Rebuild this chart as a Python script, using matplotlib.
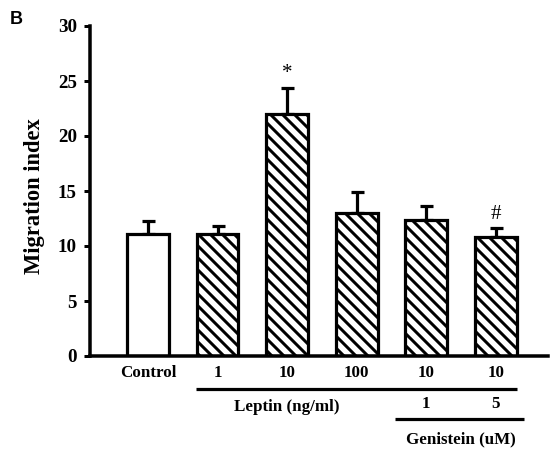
import matplotlib
matplotlib.use("Agg")
import matplotlib.pyplot as plt
import matplotlib.transforms as mtransforms

categories = ["Control", "1", "10", "100", "10", "10"]
means = [11.1, 11.1, 22.0, 13.0, 12.4, 10.8]
errors = [1.2, 0.7, 2.4, 1.9, 1.2, 0.8]
hatched = [False, True, True, True, True, True]
genistein_labels = ["1", "5"]
genistein_idx = [4, 5]
significance = {2: "*", 5: "#"}
yticks = [0, 5, 10, 15, 20, 25, 30]

DPI = 144
W, H = 552, 452
def px(p):
    return p * 72.0 / DPI

plt.rcParams['hatch.linewidth'] = px(3)
plt.rcParams['font.family'] = ['Liberation Serif', 'DejaVu Serif']

fig = plt.figure(figsize=(W / DPI, H / DPI), dpi=DPI)
ax = fig.add_axes([90 / W, 1 - 356 / H, (548 - 90) / W, (356 - 26) / H])

x = list(range(len(categories)))
for i in x:
    ax.bar(i, means[i], width=0.6, color='white', edgecolor='black',
           linewidth=px(3.2), hatch='\\\\\\\\' if hatched[i] else None, zorder=2)
ax.errorbar(x, means, yerr=[[0] * len(errors), errors], fmt='none',
            ecolor='black', elinewidth=px(3.2), capsize=px(6.5),
            capthick=px(3.2), zorder=1)

ax.set_ylim(0, 30)
ax.set_xlim(-0.833, 5.75)
ax.set_yticks(yticks)
ax.set_yticklabels([str(t) for t in yticks], fontsize=px(19), fontweight='bold')
ax.set_xticks(x)
ax.set_xticklabels(categories, fontsize=px(17), fontweight='bold')
ax.tick_params(axis='x', length=0, pad=px(9))
ax.tick_params(axis='y', length=px(6), width=px(3), pad=px(7), direction='out')
for s in ['top', 'right']:
    ax.spines[s].set_visible(False)
for s in ['left', 'bottom']:
    ax.spines[s].set_linewidth(px(3.5))

for i, sym in significance.items():
    ax.text(i, means[i] + errors[i] + 1.3, sym, ha='center', va='center',
            fontsize=px(21), fontfamily=['Liberation Serif'])

trans = mtransforms.blended_transform_factory(ax.transData, fig.transFigure)
def fy(p):
    return 1 - p / H

# Leptin group line
ax.plot([1 - 0.31, 5 + 0.31], [fy(389)] * 2, transform=trans,
        color='black', lw=px(3.2), clip_on=False, solid_capstyle='butt')
ax.text(2.0, fy(407), "Leptin (ng/ml)", transform=trans, ha='center', va='center',
        fontsize=px(17), fontweight='bold')
for lab, i in zip(genistein_labels, genistein_idx):
    ax.text(i, fy(404), lab, transform=trans, ha='center', va='center',
            fontsize=px(17), fontweight='bold')
ax.plot([genistein_idx[0] - 0.45, genistein_idx[-1] + 0.4], [fy(419)] * 2,
        transform=trans, color='black', lw=px(3.2), clip_on=False,
        solid_capstyle='butt')
ax.text((genistein_idx[0] + genistein_idx[-1]) / 2, fy(439), "Genistein (uM)",
        transform=trans, ha='center', va='center', fontsize=px(17), fontweight='bold')

fig.text(35 / W, fy(196), "Migration index", rotation=90, ha='center', va='center',
         fontsize=px(22.5), fontweight='bold')
fig.text(10 / W, fy(19), "B", ha='left', va='center', fontsize=px(18),
         fontweight='bold', fontfamily=['Liberation Sans', 'DejaVu Sans'])

fig.savefig("out.png", dpi=DPI)
